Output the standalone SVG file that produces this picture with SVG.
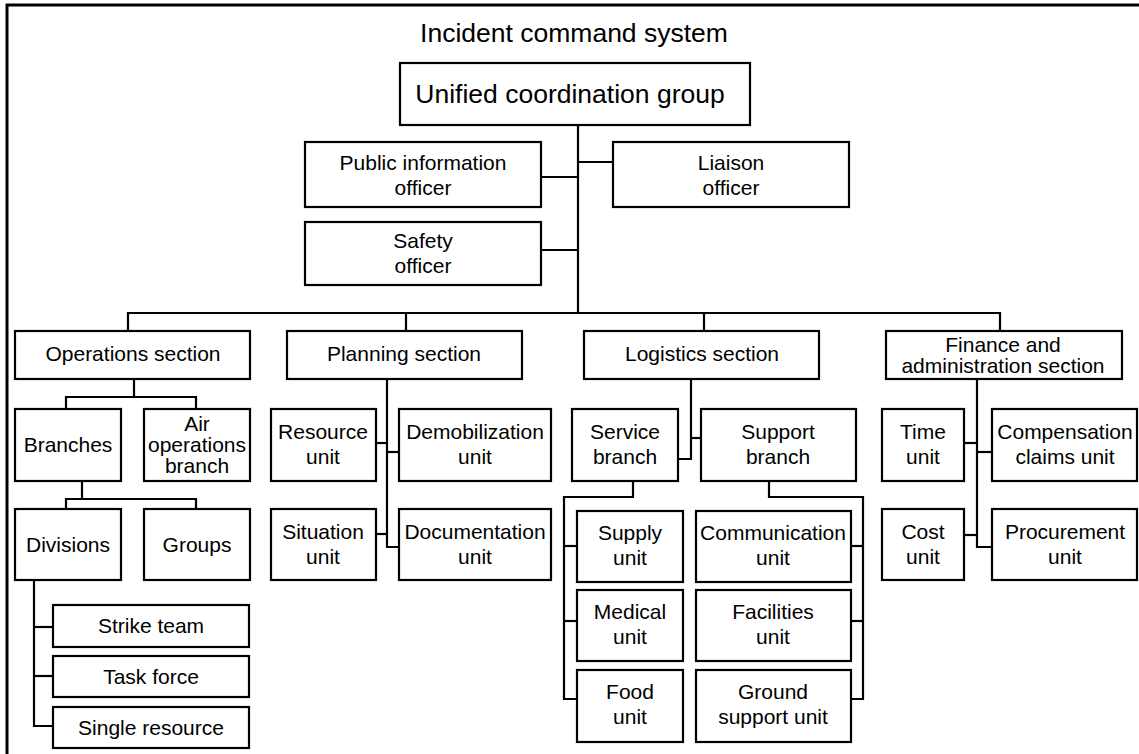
<svg xmlns="http://www.w3.org/2000/svg" width="1139" height="754" viewBox="0 0 1139 754">
<style>
  .box { fill: #fff; stroke: #000; stroke-width: 2.2; }
  .t { font-family: "Liberation Sans", Arial, sans-serif; font-size: 21px; fill: #000; text-anchor: middle; }
  .big { font-size: 26.5px; }
  .con { fill: none; stroke: #000; stroke-width: 2.2; }
</style>
<rect x="0" y="0" width="1139" height="754" fill="#fff"/>
<rect x="7" y="5" width="1150" height="770" fill="none" stroke="#000" stroke-width="3"/>
<text class="t big" x="574" y="42">Incident command system</text>

<g id="connectors" class="con">
  <path d="M578,125 V313"/>
  <path d="M578,162 H613"/>
  <path d="M541,177 H578"/>
  <path d="M541,250 H578"/>
  <path d="M128,331 V313 H1000 V331"/>
  <path d="M406,313 V331"/>
  <path d="M704,313 V331"/>
  <path d="M134,379 V397"/>
  <path d="M66,409 V397 H196 V409"/>
  <path d="M82,481 V499"/>
  <path d="M66,509 V499 H196 V509"/>
  <path d="M34,580 V726 H53"/>
  <path d="M34,627 H53"/>
  <path d="M34,676 H53"/>
  <path d="M387,379 V547 H399"/>
  <path d="M376,443 H387"/>
  <path d="M387,452 H399"/>
  <path d="M376,534 H387"/>
  <path d="M691,379 V459 H678"/>
  <path d="M691,438 H701"/>
  <path d="M633,481 V497 H564 V699 H577"/>
  <path d="M564,546 H577"/>
  <path d="M564,621 H577"/>
  <path d="M769,481 V497 H863 V699 H851"/>
  <path d="M851,546 H863"/>
  <path d="M851,621 H863"/>
  <path d="M977,379 V547 H992"/>
  <path d="M964,443 H977"/>
  <path d="M977,452 H992"/>
  <path d="M964,535 H977"/>
</g>

<g id="ucg"><rect class="box" x="400" y="63" width="350" height="62"/><text class="t big" x="570" y="103">Unified coordination group</text></g>
<g id="pio"><rect class="box" x="305" y="142" width="236" height="65"/><text class="t" x="423" y="170">Public information</text><text class="t" x="423" y="195">officer</text></g>
<g id="liaison"><rect class="box" x="613" y="142" width="236" height="65"/><text class="t" x="731" y="170">Liaison</text><text class="t" x="731" y="195">officer</text></g>
<g id="safety"><rect class="box" x="305" y="222" width="236" height="63"/><text class="t" x="423" y="248">Safety</text><text class="t" x="423" y="273">officer</text></g>

<g id="ops"><rect class="box" x="15" y="331" width="235" height="48"/><text class="t" x="133" y="361">Operations section</text></g>
<g id="branches"><rect class="box" x="15" y="409" width="106" height="72"/><text class="t" x="68" y="452">Branches</text></g>
<g id="air"><rect class="box" x="144" y="409" width="106" height="72"/><text class="t" x="197" y="431">Air</text><text class="t" x="197" y="452">operations</text><text class="t" x="197" y="473">branch</text></g>
<g id="divisions"><rect class="box" x="15" y="509" width="106" height="71"/><text class="t" x="68" y="552">Divisions</text></g>
<g id="groups"><rect class="box" x="144" y="509" width="106" height="71"/><text class="t" x="197" y="552">Groups</text></g>
<g id="strike"><rect class="box" x="53" y="605" width="196" height="42"/><text class="t" x="151" y="633">Strike team</text></g>
<g id="task"><rect class="box" x="53" y="656" width="196" height="41"/><text class="t" x="151" y="684">Task force</text></g>
<g id="single"><rect class="box" x="53" y="707" width="196" height="41"/><text class="t" x="151" y="735">Single resource</text></g>

<g id="planning"><rect class="box" x="287" y="331" width="235" height="48"/><text class="t" x="404" y="361">Planning section</text></g>
<g id="resource"><rect class="box" x="271" y="409" width="105" height="72"/><text class="t" x="323" y="439">Resource</text><text class="t" x="323" y="464">unit</text></g>
<g id="demob"><rect class="box" x="399" y="409" width="152" height="72"/><text class="t" x="475" y="439">Demobilization</text><text class="t" x="475" y="464">unit</text></g>
<g id="situation"><rect class="box" x="271" y="509" width="105" height="71"/><text class="t" x="323" y="539">Situation</text><text class="t" x="323" y="564">unit</text></g>
<g id="documentation"><rect class="box" x="399" y="509" width="152" height="71"/><text class="t" x="475" y="539">Documentation</text><text class="t" x="475" y="564">unit</text></g>

<g id="logistics"><rect class="box" x="584" y="331" width="235" height="48"/><text class="t" x="702" y="361">Logistics section</text></g>
<g id="service"><rect class="box" x="572" y="409" width="106" height="72"/><text class="t" x="625" y="439">Service</text><text class="t" x="625" y="464">branch</text></g>
<g id="support"><rect class="box" x="701" y="409" width="155" height="72"/><text class="t" x="778" y="439">Support</text><text class="t" x="778" y="464">branch</text></g>
<g id="supply"><rect class="box" x="577" y="511" width="106" height="71"/><text class="t" x="630" y="540">Supply</text><text class="t" x="630" y="565">unit</text></g>
<g id="medical"><rect class="box" x="577" y="590" width="106" height="71"/><text class="t" x="630" y="619">Medical</text><text class="t" x="630" y="644">unit</text></g>
<g id="food"><rect class="box" x="577" y="670" width="106" height="72"/><text class="t" x="630" y="699">Food</text><text class="t" x="630" y="724">unit</text></g>
<g id="communication"><rect class="box" x="696" y="511" width="155" height="71"/><text class="t" x="773" y="540">Communication</text><text class="t" x="773" y="565">unit</text></g>
<g id="facilities"><rect class="box" x="696" y="590" width="155" height="71"/><text class="t" x="773" y="619">Facilities</text><text class="t" x="773" y="644">unit</text></g>
<g id="ground"><rect class="box" x="696" y="670" width="155" height="72"/><text class="t" x="773" y="699">Ground</text><text class="t" x="773" y="724">support unit</text></g>

<g id="finance"><rect class="box" x="886" y="331" width="236" height="48"/><text class="t" x="1003" y="352">Finance and</text><text class="t" x="1003" y="373">administration section</text></g>
<g id="time"><rect class="box" x="882" y="409" width="82" height="72"/><text class="t" x="923" y="439">Time</text><text class="t" x="923" y="464">unit</text></g>
<g id="compensation"><rect class="box" x="992" y="409" width="145" height="72"/><text class="t" x="1065" y="439">Compensation</text><text class="t" x="1065" y="464">claims unit</text></g>
<g id="cost"><rect class="box" x="882" y="509" width="82" height="71"/><text class="t" x="923" y="539">Cost</text><text class="t" x="923" y="564">unit</text></g>
<g id="procurement"><rect class="box" x="992" y="509" width="145" height="71"/><text class="t" x="1065" y="539">Procurement</text><text class="t" x="1065" y="564">unit</text></g>
</svg>
